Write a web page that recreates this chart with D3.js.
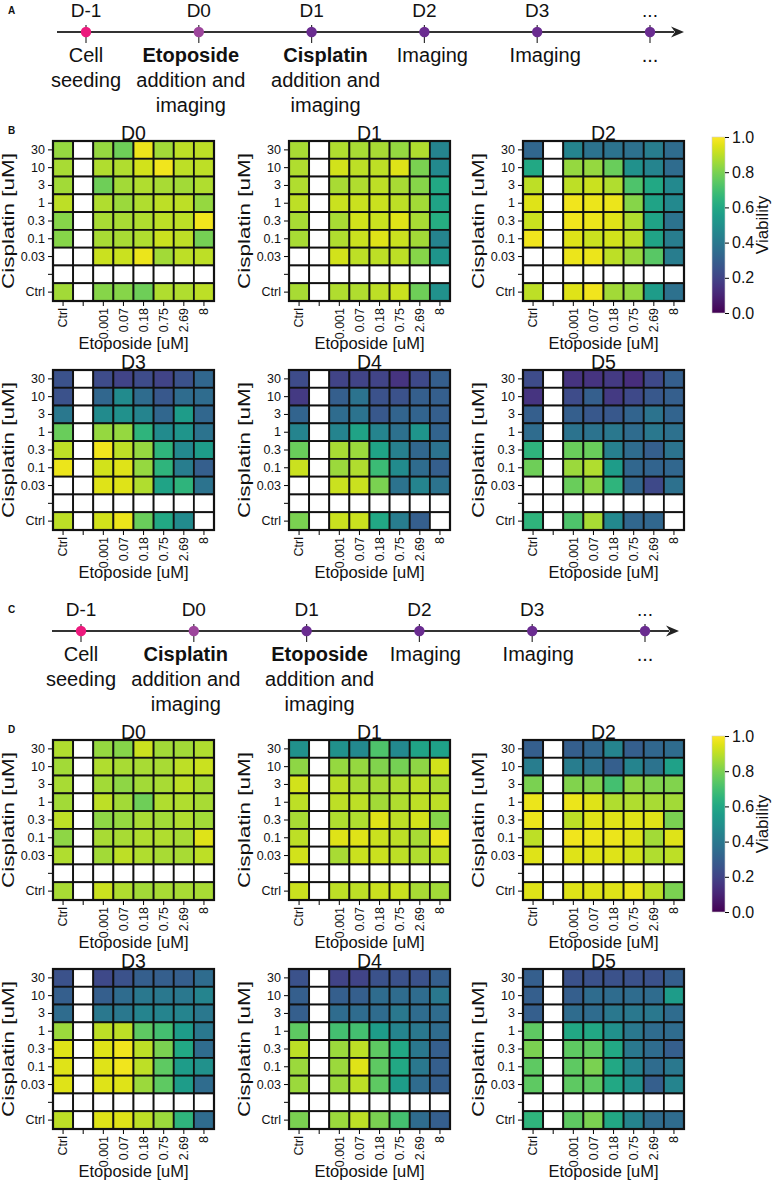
<!DOCTYPE html>
<html><head><meta charset="utf-8">
<script src="https://cdn.jsdelivr.net/npm/d3@7"></script>
<style>
body{margin:0;background:#fff}
svg{display:block}
text{font-family:"Liberation Sans",Arial,Helvetica,sans-serif;fill:#111}
</style>
</head><body>
<svg id="fig" width="778" height="1186"></svg>
<script>
// ---------- DATA ----------
const cisplatinLabels = ["30","10","3","1","0.3","0.1","0.03","","Ctrl"];
const etoposideLabels = ["Ctrl","","0.001","0.07","0.18","0.75","2.69","8"];
const dayTitles = ["D0","D1","D2","D3","D4","D5"];
const colorbarTicks = [0,0.2,0.4,0.6,0.8,1.0];

const timelineDays = ["D-1","D0","D1","D2","D3","..."];
const timelineEventsA = [["Cell","seeding"],["Etoposide","addition and","imaging"],["Cisplatin","addition and","imaging"],["Imaging"],["Imaging"],["..."]];
const timelineEventsC = [["Cell","seeding"],["Cisplatin","addition and","imaging"],["Etoposide","addition and","imaging"],["Imaging"],["Imaging"],["..."]];
const timelineBoldFirst = [false,true,true,false,false,false];

const N = null;
const blankRow = [N,N,N,N,N,N,N,N];
// Panel B: Etoposide first (D0), Cisplatin next (D1)
const etoFirstD0 = [
 [0.84,N,0.84,0.78,0.97,0.86,0.9,0.9],
 [0.87,N,0.88,0.88,0.93,0.98,0.9,0.9],
 [0.86,N,0.78,0.86,0.88,0.87,0.86,0.88],
 [0.9,N,0.88,0.85,0.88,0.9,0.9,0.84],
 [0.82,N,0.87,0.87,0.88,0.9,0.9,0.98],
 [0.82,N,0.87,0.87,0.88,0.92,0.9,0.79],
 [N,N,0.92,0.92,0.97,0.86,0.9,0.9],
 blankRow,
 [0.86,N,0.82,0.82,0.78,0.88,0.88,0.9]];
const etoFirstD1 = [
 [0.87,N,0.88,0.87,0.87,0.84,0.88,0.45],
 [0.88,N,0.93,0.9,0.9,0.95,0.8,0.47],
 [0.88,N,0.87,0.88,0.9,0.87,0.82,0.6],
 [0.9,N,0.92,0.92,0.92,0.9,0.86,0.58],
 [0.87,N,0.87,0.93,0.92,0.95,0.87,0.62],
 [0.87,N,0.88,0.92,0.95,0.92,0.86,0.45],
 [N,N,0.93,0.9,0.9,0.9,0.82,0.52],
 blankRow,
 [0.87,N,0.88,0.88,0.9,0.92,0.78,0.5]];
const etoFirstD2 = [
 [0.33,N,0.45,0.38,0.38,0.37,0.42,0.35],
 [0.6,N,0.84,0.84,0.77,0.5,0.45,0.35],
 [0.9,N,0.9,0.92,0.88,0.72,0.6,0.47],
 [0.95,N,0.98,0.97,0.97,0.82,0.58,0.47],
 [0.92,N,0.98,0.97,0.95,0.88,0.58,0.38],
 [0.98,N,0.95,0.92,0.93,0.9,0.58,0.42],
 [N,N,0.97,0.97,0.9,0.85,0.74,0.42],
 blankRow,
 [0.9,N,0.95,0.98,0.86,0.84,0.55,0.37]];
const etoFirstD3 = [
 [0.25,N,0.23,0.2,0.23,0.2,0.25,0.33],
 [0.25,N,0.33,0.48,0.35,0.27,0.35,0.35],
 [0.4,N,0.48,0.5,0.45,0.33,0.55,0.33],
 [0.77,N,0.84,0.84,0.65,0.48,0.52,0.38],
 [0.9,N,0.98,0.9,0.84,0.65,0.47,0.55],
 [0.97,N,0.93,0.95,0.84,0.65,0.42,0.3],
 [N,N,0.95,0.95,0.88,0.58,0.65,0.38],
 blankRow,
 [0.9,N,0.93,0.97,0.77,0.6,0.48,N]];
const etoFirstD4 = [
 [0.23,N,0.2,0.2,0.2,0.15,0.22,0.3],
 [0.17,N,0.3,0.38,0.25,0.25,0.3,0.3],
 [0.32,N,0.35,0.38,0.27,0.32,0.32,0.3],
 [0.45,N,0.45,0.58,0.45,0.37,0.52,0.32],
 [0.77,N,0.87,0.85,0.58,0.43,0.33,0.38],
 [0.92,N,0.85,0.88,0.68,0.48,0.35,0.3],
 [N,N,0.92,0.92,0.8,0.38,0.45,0.38],
 blankRow,
 [0.8,N,0.92,0.92,0.6,0.42,0.3,N]];
const etoFirstD5 = [
 [0.23,N,0.15,0.15,0.17,0.13,0.22,0.3],
 [0.15,N,0.23,0.3,0.17,0.22,0.27,0.3],
 [0.3,N,0.3,0.27,0.27,0.32,0.38,0.32],
 [0.35,N,0.38,0.38,0.4,0.35,0.4,0.37],
 [0.65,N,0.77,0.77,0.43,0.35,0.3,0.38],
 [0.78,N,0.85,0.88,0.55,0.33,0.32,0.33],
 [N,N,0.77,0.83,0.65,0.33,0.22,0.37],
 blankRow,
 [0.65,N,0.72,0.87,0.47,0.33,0.33,N]];
// Panel D: Cisplatin first (D0), Etoposide next (D1)
const cisFirstD0 = [
 [0.88,N,0.84,0.82,0.92,0.86,0.86,0.88],
 [0.86,N,0.88,0.87,0.87,0.87,0.9,0.92],
 [0.87,N,0.86,0.83,0.86,0.87,0.9,0.87],
 [0.86,N,0.9,0.86,0.78,0.88,0.88,0.87],
 [0.9,N,0.83,0.84,0.87,0.86,0.88,0.86],
 [0.83,N,0.87,0.87,0.88,0.88,0.87,0.95],
 [0.88,N,0.86,0.9,0.88,0.87,0.87,0.9],
 blankRow,
 [0.87,N,0.92,0.88,0.86,0.87,0.87,0.87]];
const cisFirstD1 = [
 [0.5,N,0.5,0.47,0.72,0.47,0.58,0.57],
 [0.83,N,0.84,0.84,0.81,0.79,0.83,0.93],
 [0.93,N,0.9,0.87,0.87,0.88,0.9,0.87],
 [0.9,N,0.9,0.9,0.86,0.88,0.9,0.9],
 [0.87,N,0.88,0.88,0.95,0.9,0.93,0.82],
 [0.9,N,0.95,0.95,0.92,0.9,0.87,0.97],
 [0.93,N,0.87,0.92,0.92,0.9,0.88,0.9],
 blankRow,
 [0.92,N,0.9,0.9,0.92,0.92,0.87,0.86]];
const cisFirstD2 = [
 [0.3,N,0.3,0.33,0.45,0.3,0.33,0.35],
 [0.42,N,0.42,0.38,0.3,0.45,0.38,0.57],
 [0.8,N,0.81,0.81,0.7,0.83,0.81,0.81],
 [0.97,N,0.97,0.95,0.88,0.88,0.87,0.86],
 [0.97,N,0.9,0.95,0.95,0.95,0.95,0.8],
 [0.9,N,0.98,0.97,0.97,0.95,0.86,0.95],
 [0.95,N,0.95,0.95,0.95,0.93,0.88,0.9],
 blankRow,
 [0.95,N,0.95,0.95,0.95,0.97,0.9,0.8]];
const cisFirstD3 = [
 [0.25,N,0.22,0.25,0.3,0.3,0.3,0.35],
 [0.3,N,0.3,0.35,0.4,0.4,0.4,0.45],
 [0.35,N,0.4,0.4,0.45,0.45,0.45,0.4],
 [0.85,N,0.9,0.9,0.75,0.7,0.55,0.4],
 [0.95,N,0.95,0.98,0.9,0.8,0.6,0.35],
 [0.95,N,0.95,0.98,0.9,0.75,0.55,0.5],
 [0.95,N,0.95,0.95,0.85,0.75,0.55,0.35],
 blankRow,
 [0.9,N,0.95,0.95,0.9,0.85,0.65,0.35]];
const cisFirstD4 = [
 [0.25,N,0.2,0.2,0.25,0.25,0.25,0.3],
 [0.3,N,0.3,0.3,0.35,0.35,0.35,0.4],
 [0.3,N,0.35,0.35,0.35,0.4,0.35,0.35],
 [0.75,N,0.7,0.7,0.55,0.45,0.4,0.35],
 [0.9,N,0.85,0.9,0.75,0.6,0.4,0.3],
 [0.85,N,0.85,0.95,0.75,0.6,0.4,0.3],
 [0.85,N,0.85,0.9,0.75,0.55,0.35,0.3],
 blankRow,
 [0.8,N,0.85,0.9,0.8,0.7,0.35,0.3]];
const cisFirstD5 = [
 [0.3,N,0.25,0.25,0.25,0.25,0.25,0.3],
 [0.3,N,0.3,0.35,0.35,0.35,0.35,0.55],
 [0.3,N,0.35,0.35,0.4,0.4,0.4,0.35],
 [0.75,N,0.6,0.6,0.5,0.4,0.35,0.35],
 [0.8,N,0.75,0.75,0.6,0.4,0.35,0.3],
 [0.75,N,0.75,0.8,0.6,0.45,0.35,0.4],
 [0.75,N,0.75,0.75,0.6,0.5,0.3,0.45],
 blankRow,
 [0.65,N,0.75,0.8,0.6,0.45,0.35,0.35]];

const panelB = [etoFirstD0,etoFirstD1,etoFirstD2,etoFirstD3,etoFirstD4,etoFirstD5];
const panelD = [cisFirstD0,cisFirstD1,cisFirstD2,cisFirstD3,cisFirstD4,cisFirstD5];

// ---------- LAYOUT ----------
const svg = d3.select("#fig");
const defs = svg.append("defs");
const color = d3.scaleSequential(d3.interpolateViridis).domain([0,1]);
const gridLefts = [53, 289, 523];
const gridTops = [141, 370];
const gridW = 161, gridH = 160;
const sectionOffset = 599;
const FONT = "'Liberation Sans',Arial,sans-serif";

function timeline(g, events, xRange, offsets){
  const x = d3.scaleLinear().domain([0, timelineDays.length-1]).range(xRange);
  const ly = 32;
  g.append("line").attr("x1",xRange[0]-29).attr("x2",xRange[1]+24).attr("y1",ly).attr("y2",ly)
    .attr("stroke","#333").attr("stroke-width",2);
  const tip = xRange[1]+34;
  g.append("path").attr("d",`M${tip},${ly} L${tip-13},${ly-5.5} L${tip-9},${ly} L${tip-13},${ly+5.5} Z`).attr("fill","#222");
  const dotColors = ["#ec1a7d","#9d469c","#6a2c90","#6a2c90","#6a2c90","#6a2c90"];
  timelineDays.forEach((d,i)=>{
    const cx = x(i);
    g.append("line").attr("x1",cx).attr("x2",cx).attr("y1",25).attr("y2",43).attr("stroke","#333").attr("stroke-width",1.2);
    g.append("circle").attr("cx",cx).attr("cy",ly).attr("r",5.2).attr("fill",dotColors[i]);
    g.append("text").attr("x",cx).attr("y",17).attr("text-anchor","middle").attr("font-size",19).text(d);
    events[i].forEach((line,j)=>{
      g.append("text").attr("x",cx+offsets[i]).attr("y",62+25*j).attr("text-anchor","middle")
        .attr("font-size",20).attr("font-weight",(j===0&&timelineBoldFirst[i])?"bold":"normal").text(line);
    });
  });
}

function heatmap(g, data, title, left, top){
  const x = d3.scaleBand().domain(d3.range(etoposideLabels.length)).range([left,left+gridW]);
  const y = d3.scaleBand().domain(d3.range(cisplatinLabels.length)).range([top,top+gridH]);
  const cells = [];
  data.forEach((row,r)=>row.forEach((v,c)=>cells.push({r,c,v})));
  g.selectAll(null).data(cells).enter().append("rect")
    .attr("x",d=>x(d.c)).attr("y",d=>y(d.r)).attr("width",x.bandwidth()).attr("height",y.bandwidth())
    .attr("fill",d=>d.v==null?"#fff":color(d.v)).attr("stroke","#111").attr("stroke-width",1.8);
  g.append("rect").attr("x",left).attr("y",top).attr("width",gridW).attr("height",gridH)
    .attr("fill","none").attr("stroke","#111").attr("stroke-width",2.2);
  // y axis
  const ya = g.append("g").attr("transform",`translate(${left-1},0)`)
    .call(d3.axisLeft(y).tickSize(4).tickPadding(3).tickFormat(i=>cisplatinLabels[i]));
  ya.select(".domain").remove();
  ya.selectAll("text").attr("font-size",12.5).style("font-family",FONT).attr("fill","#111");
  // x axis
  const xa = g.append("g").attr("transform",`translate(0,${top+gridH+1})`)
    .call(d3.axisBottom(x).tickSize(4).tickPadding(3).tickFormat(i=>etoposideLabels[i]));
  xa.select(".domain").remove();
  xa.selectAll("text").attr("font-size",12.5).style("font-family",FONT).attr("fill","#111")
    .attr("transform","rotate(-90)").attr("text-anchor","end").attr("x",-6).attr("y",0).attr("dy","0.35em");
  // title and labels
  g.append("text").attr("x",left+gridW/2).attr("y",top-1).attr("text-anchor","middle").attr("font-size",19.5).text(title);
  g.append("text").attr("x",left+gridW/2).attr("y",top+gridH+48).attr("text-anchor","middle").attr("font-size",16.5).text("Etoposide [uM]");
  g.append("text").attr("transform",`translate(${left-39},${top+gridH/2}) rotate(-90)`).attr("text-anchor","middle")
    .attr("font-size",17).attr("textLength",136).attr("lengthAdjust","spacingAndGlyphs").text("Cisplatin [uM]");
}

function colorbar(g, top, id){
  const x0 = 712, w = 13, h = 176;
  const grad = defs.append("linearGradient").attr("id",id).attr("x1",0).attr("x2",0).attr("y1",1).attr("y2",0);
  d3.range(0,1.0001,0.05).forEach(t=>grad.append("stop").attr("offset",t).attr("stop-color",color(t)));
  g.append("rect").attr("x",x0).attr("y",top).attr("width",w).attr("height",h).attr("fill",`url(#${id})`)
    .attr("stroke","#ccc").attr("stroke-width",0.6);
  const s = d3.scaleLinear().domain([0,1]).range([top+h,top]);
  const ax = g.append("g").attr("transform",`translate(${x0+w},0)`)
    .call(d3.axisRight(s).tickValues(colorbarTicks).tickSize(4).tickPadding(3).tickFormat(d3.format(".1f")));
  ax.select(".domain").remove();
  ax.selectAll("text").attr("font-size",16).style("font-family",FONT).attr("fill","#111");
  g.append("text").attr("transform",`translate(768,${top+h/2}) rotate(-90)`).attr("text-anchor","middle")
    .attr("font-size",17).text("Viability");
}

function section(offset, events, xRange, offsets, data, letters, gid){
  const g = svg.append("g").attr("transform",`translate(0,${offset})`);
  timeline(g.append("g"), events, xRange, offsets);
  g.append("text").attr("x",8).attr("y",14).attr("font-size",10).attr("font-weight","bold").text(letters[0]);
  g.append("text").attr("x",8).attr("y",134).attr("font-size",10).attr("font-weight","bold").text(letters[1]);
  data.forEach((m,i)=>{
    heatmap(g, m, dayTitles[i], gridLefts[i%3], gridTops[Math.floor(i/3)]);
  });
  colorbar(g, 137, gid);
}

section(0, timelineEventsA, [86,650], [0,-8,14,8,8,0], panelB, ["A","B"], "virB");
section(sectionOffset, timelineEventsC, [81,645], [0,-8,13,6,6,0], panelD, ["C","D"], "virD");
</script>
</body></html>
